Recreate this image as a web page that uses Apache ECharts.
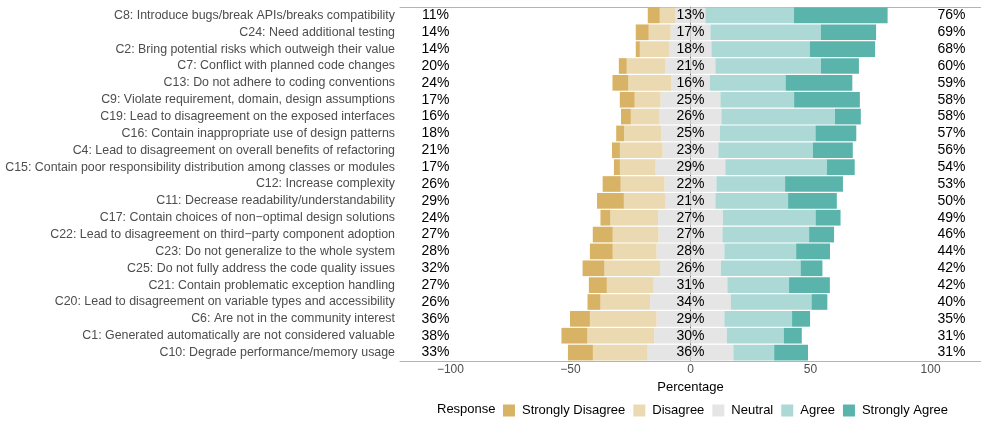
<!DOCTYPE html>
<html>
<head>
<meta charset="utf-8">
<script src="https://cdn.jsdelivr.net/npm/echarts@6/dist/echarts.min.js"></script>
<style>
html,body{margin:0;padding:0;background:#fff;}
#chart{width:981px;height:421px;}
</style>
</head>
<body>
<div id="chart"></div>
<script>
var categories = [
  "C8: Introduce bugs/break APIs/breaks compatibility",
  "C24: Need additional testing",
  "C2: Bring potential risks which outweigh their value",
  "C7: Conflict with planned code changes",
  "C13: Do not adhere to coding conventions",
  "C9: Violate requirement, domain, design assumptions",
  "C19: Lead to disagreement on the exposed interfaces",
  "C16: Contain inappropriate use of design patterns",
  "C4: Lead to disagreement on overall benefits of refactoring",
  "C15: Contain poor responsibility distribution among classes or modules",
  "C12: Increase complexity",
  "C11: Decrease readability/understandability",
  "C17: Contain choices of non\u2212optimal design solutions",
  "C22: Lead to disagreement on third\u2212party component adoption",
  "C23: Do not generalize to the whole system",
  "C25: Do not fully address the code quality issues",
  "C21: Contain problematic exception handling",
  "C20: Lead to disagreement on variable types and accessibility",
  "C6: Are not in the community interest",
  "C1: Generated automatically are not considered valuable",
  "C10: Degrade performance/memory usage"
];
var stronglyDisagree = [5.0,5.4,1.7,3.3,6.6,6.2,4.1,3.3,3.3,2.5,7.5,11.2,4.1,8.3,9.5,9.1,7.5,5.4,8.3,10.8,10.4];
var disagree = [6.6,9.1,12.4,16.2,17.8,10.8,12.0,15.4,17.8,14.9,18.3,17.4,19.9,19.1,18.3,23.2,19.5,20.7,27.8,27.8,22.8];
var neutral = [12.4,16.6,17.4,20.7,16.2,24.9,25.7,24.5,23.2,29.0,21.6,20.7,27.0,26.6,28.2,25.3,30.7,33.6,28.2,30.3,35.7];
var agree = [36.9,46.0,41.0,44.0,31.5,30.7,47.3,39.8,39.4,42.3,28.6,30.3,38.6,36.1,29.9,33.2,25.7,33.6,28.2,23.7,17.0];
var stronglyAgree = [39.0,23.0,27.2,15.8,27.8,27.4,10.8,17.0,16.6,11.6,24.1,20.3,10.4,10.4,14.1,9.1,17.0,6.6,7.5,7.5,14.1];
var lowLabels = [11,14,14,20,24,17,16,18,21,17,26,29,24,27,28,32,27,26,36,38,33];
var neutralLabels = [13,17,18,21,16,25,26,25,23,29,22,21,27,27,28,26,31,34,29,30,36];
var highLabels = [76,69,68,60,59,58,58,57,56,54,53,50,49,46,44,42,42,40,35,31,31];
var xTicks = [-100,-50,0,50,100];
var responses = ["Strongly Disagree","Disagree","Neutral","Agree","Strongly Agree"];
var colors = {"Strongly Disagree":"#d8b365","Disagree":"#ebd9b2","Neutral":"#e5e5e5","Agree":"#acd9d5","Strongly Agree":"#5ab4ac"};

var FONT = '"Liberation Sans", Arial, Helvetica, sans-serif';

function neg(arr){ return arr.map(function(v){ return -v; }); }
function half(arr, s){ return arr.map(function(v){ return s*v/2; }); }

function barSeries(name, data){
  return {
    name: name, type: 'bar', stack: 'likert', data: data,
    barCategoryGap: '7%', z: 2,
    itemStyle: {color: colors[name]},
    emphasis: {disabled: true}
  };
}

var textData = [];
categories.forEach(function(c, i){
  textData.push([-106.2, i, lowLabels[i] + '%']);
  textData.push([0, i, neutralLabels[i] + '%']);
  textData.push([108.7, i, highLabels[i] + '%']);
});

var chart = echarts.init(document.getElementById('chart'), null, {renderer:'canvas'});
chart.setOption({
  animation: false,
  backgroundColor: '#ffffff',
  textStyle: {fontFamily: FONT},
  grid: {left: 400, top: 7, width: 582, height: 354, containLabel: false},
  legend: {
    data: responses,
    left: 503, top: 404, padding: 0,
    itemWidth: 12, itemHeight: 12, itemGap: 8,
    icon: 'rect',
    selectedMode: false,
    textStyle: {fontSize: 13, color: '#000', fontFamily: FONT, padding: [0,0,0,2]}
  },
  graphic: [{
    type: 'text', left: 437, top: 403,
    style: {text: 'Response', font: '13px ' + FONT, fill: '#000'}
  }],
  xAxis: [{
    type: 'value', min: -121, max: 121,
    name: 'Percentage', nameLocation: 'middle', nameGap: 15,
    nameTextStyle: {fontSize: 13, color: '#000', fontFamily: FONT},
    axisLine: {show: true, lineStyle: {color: '#b3b3b3', width: 1}},
    axisTick: {show: false},
    splitLine: {show: false},
    axisLabel: {
      customValues: xTicks, fontSize: 12, color: '#4d4d4d', margin: 3, fontFamily: FONT,
      formatter: function(v){ return v < 0 ? '\u2212' + Math.abs(v) : String(v); }
    }
  }, {
    type: 'value', min: -121, max: 121, position: 'top',
    axisLine: {show: true, lineStyle: {color: '#b3b3b3', width: 1}},
    axisTick: {show: false}, axisLabel: {show: false}, splitLine: {show: false}
  }],
  yAxis: {
    type: 'category', data: categories, inverse: true,
    axisLine: {show: true, lineStyle: {color: '#b3b3b3', width: 1}},
    axisTick: {show: false},
    axisLabel: {fontSize: 12.4, color: '#4d4d4d', margin: 5, fontFamily: FONT}
  },
  series: [
    {
      type: 'custom', z: 1, silent: true, data: [[0]],
      renderItem: function(params, api){
        var cs = params.coordSys;
        var x = api.coord([0, 0])[0];
        return {type: 'line', shape: {x1: x, y1: cs.y, x2: x, y2: cs.y + cs.height},
                style: {stroke: '#555', lineWidth: 0.8}};
      }
    },
    barSeries('Neutral', half(neutral, -1)),
    barSeries('Disagree', neg(disagree)),
    barSeries('Strongly Disagree', neg(stronglyDisagree)),
    barSeries('Neutral', half(neutral, 1)),
    barSeries('Agree', agree),
    barSeries('Strongly Agree', stronglyAgree),
    {
      type: 'custom', z: 5, silent: true, data: textData,
      renderItem: function(params, api){
        var p = api.coord([api.value(0), api.value(1)]);
        return {type: 'text', x: p[0], y: p[1],
                style: {text: textData[params.dataIndex][2], align: 'center', verticalAlign: 'middle',
                        font: '14px ' + FONT, fill: '#000'}};
      }
    }
  ]
});
</script>
</body>
</html>
